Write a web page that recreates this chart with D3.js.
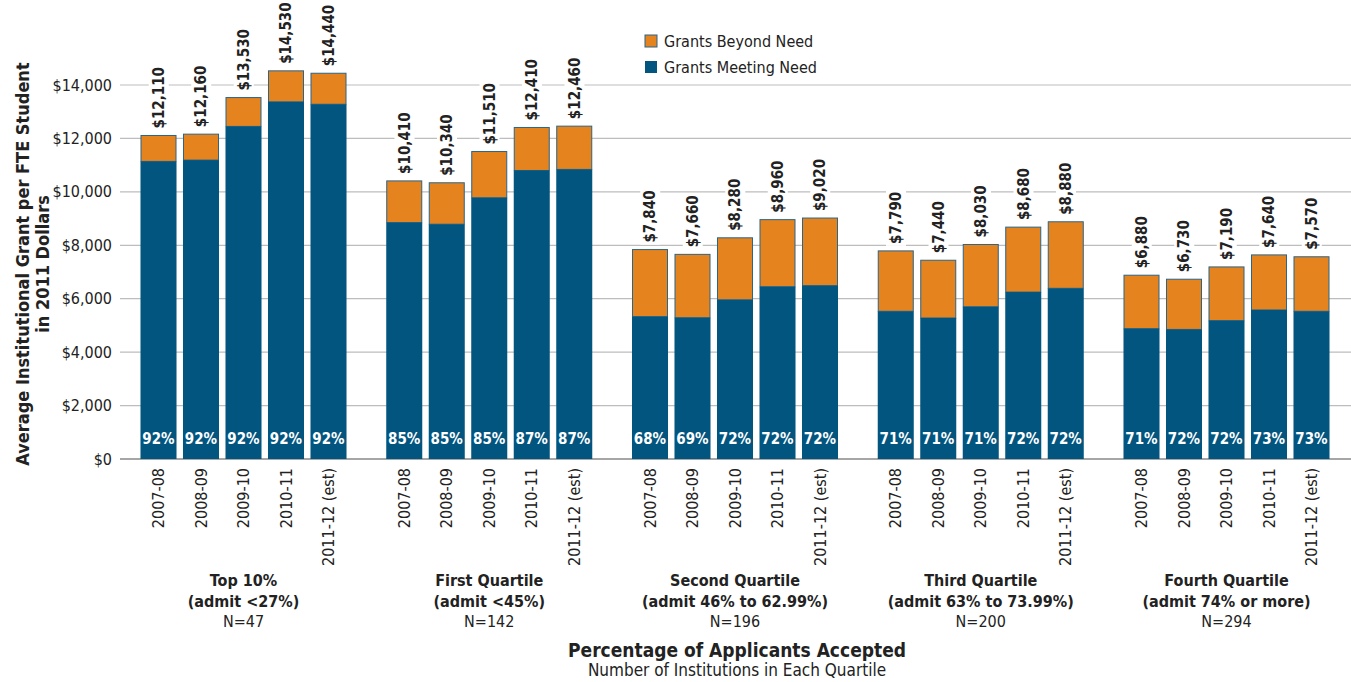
<!DOCTYPE html>
<html>
<head>
<meta charset="utf-8">
<script src="https://cdn.jsdelivr.net/npm/d3@7"></script>
<style>
  body { margin: 0; background: #fff; }
  svg text { font-family: "Liberation Sans Narrow", "DejaVu Sans Condensed", "Roboto Condensed", sans-serif; font-stretch: condensed; fill: #222; }
</style>
</head>
<body>
<svg id="chart"></svg>
<script>
const width = 1351, height = 682;

// data
const groups = ["Top 10%", "First Quartile", "Second Quartile", "Third Quartile", "Fourth Quartile"];
const groupSub = ["(admit <27%)", "(admit <45%)", "(admit 46% to 62.99%)", "(admit 63% to 73.99%)", "(admit 74% or more)"];
const groupN = ["N=47", "N=142", "N=196", "N=200", "N=294"];
const years = ["2007-08", "2008-09", "2009-10", "2010-11", "2011-12 (est)"];
const totals = [
  [12110, 12160, 13530, 14530, 14440],
  [10410, 10340, 11510, 12410, 12460],
  [7840, 7660, 8280, 8960, 9020],
  [7790, 7440, 8030, 8680, 8880],
  [6880, 6730, 7190, 7640, 7570]
];
const meetingNeed = [
  [11140, 11190, 12450, 13370, 13280],
  [8850, 8790, 9780, 10800, 10840],
  [5330, 5290, 5960, 6450, 6490],
  [5530, 5280, 5700, 6250, 6390],
  [4880, 4850, 5180, 5580, 5530]
];
const pctMeeting = [
  [92, 92, 92, 92, 92],
  [85, 85, 85, 87, 87],
  [68, 69, 72, 72, 72],
  [71, 71, 71, 72, 72],
  [71, 72, 72, 73, 73]
];
const yTicks = [0, 2000, 4000, 6000, 8000, 10000, 12000, 14000];

const blue = "#02557f", orange = "#e5831f";

const svg = d3.select('#chart').attr('width', width).attr('height', height);

const y = d3.scaleLinear().domain([0, 14000]).range([459, 85]);
const x0 = d3.scaleBand().domain(groups).range([137.25, 1332.75]).paddingInner(0.1353);
const x1 = d3.scaleBand().domain(years).range([0, x0.bandwidth()]).paddingInner(0.176).paddingOuter(0.088);

// gridlines
svg.append('g').selectAll('line').data(yTicks).enter().append('line')
  .attr('x1', 120).attr('x2', width)
  .attr('y1', d => y(d)).attr('y2', d => y(d))
  .attr('stroke', d => d === 0 ? '#888' : '#bdbdbd')
  .attr('stroke-width', d => d === 0 ? 1.5 : 1.2);

svg.append('g').selectAll('text').data(yTicks).enter().append('text')
  .attr('x', 112).attr('y', d => y(d)).attr('dy', '0.35em')
  .attr('text-anchor', 'end').style('font-size', '16px')
  .text(d => d3.format('$,')(d));

// y title
const yt = svg.append('text').attr('transform', 'translate(31,264) rotate(-90)')
  .attr('text-anchor', 'middle').style('font-size', '18px').style('font-weight', 'bold');
yt.append('tspan').attr('x', 0).attr('dy', '-0.1em').text('Average Institutional Grant per FTE Student');
yt.append('tspan').attr('x', 0).attr('dy', '1.1em').text('in 2011 Dollars');

// bars
groups.forEach((g, gi) => {
  const gEl = svg.append('g').attr('transform', `translate(${x0(g)},0)`);
  years.forEach((yr, i) => {
    const bx = x1(yr), bw = x1.bandwidth();
    gEl.append('rect').attr('x', bx).attr('width', bw)
      .attr('y', y(totals[gi][i])).attr('height', y(meetingNeed[gi][i]) - y(totals[gi][i]))
      .attr('fill', orange).attr('stroke', '#2a6588').attr('stroke-width', 1);
    gEl.append('rect').attr('x', bx - 0.5).attr('width', bw + 1)
      .attr('y', y(meetingNeed[gi][i])).attr('height', y(0) - y(meetingNeed[gi][i]))
      .attr('fill', blue);
    // total label with white backing
    const lbl = gEl.append('g').attr('transform', `translate(${bx + bw / 2},${y(totals[gi][i]) - 7}) rotate(-90)`);
    const t = lbl.append('text').attr('dy', '0.35em').style('font-size', '15px').style('font-weight', 'bold')
      .text(d3.format('$,')(totals[gi][i]));
    const bb = t.node().getBBox();
    lbl.insert('rect', 'text').attr('x', bb.x - 2).attr('y', bb.y - 1)
      .attr('width', bb.width + 4).attr('height', bb.height + 2).attr('fill', '#fff');
    // percent label
    gEl.append('text').attr('x', bx + bw / 2).attr('y', 444)
      .attr('text-anchor', 'middle').style('font-size', '15px').style('font-weight', 'bold')
      .style('fill', '#fff').text(pctMeeting[gi][i] + '%');
    // year label
    gEl.append('text').attr('transform', `translate(${bx + bw / 2},468) rotate(-90)`)
      .attr('dy', '0.35em').attr('text-anchor', 'end').style('font-size', '16px')
      .text(yr);
  });
  const cx = x0(g) + x0.bandwidth() / 2;
  svg.append('text').attr('x', cx).attr('y', 586).attr('text-anchor', 'middle')
    .style('font-size', '16px').style('font-weight', 'bold').text(g);
  svg.append('text').attr('x', cx).attr('y', 607).attr('text-anchor', 'middle')
    .style('font-size', '16px').style('font-weight', 'bold').text(groupSub[gi]);
  svg.append('text').attr('x', cx).attr('y', 627).attr('text-anchor', 'middle')
    .style('font-size', '16px').text(groupN[gi]);
});

// bottom titles
svg.append('text').attr('x', 737).attr('y', 657).attr('text-anchor', 'middle')
  .style('font-size', '19px').style('font-weight', 'bold').text('Percentage of Applicants Accepted');
svg.append('text').attr('x', 737).attr('y', 676).attr('text-anchor', 'middle')
  .style('font-size', '17px').text('Number of Institutions in Each Quartile');

// legend
const legend = [["Grants Beyond Need", orange], ["Grants Meeting Need", blue]];
legend.forEach((d, i) => {
  svg.append('rect').attr('x', 645).attr('y', 35 + i * 26).attr('width', 12).attr('height', 12)
    .attr('fill', d[1]).attr('stroke', i === 0 ? '#2a6588' : 'none');
  svg.append('text').attr('x', 664).attr('y', 41 + i * 26).attr('dy', '0.35em')
    .style('font-size', '16px').text(d[0]);
});
</script>
</body>
</html>
